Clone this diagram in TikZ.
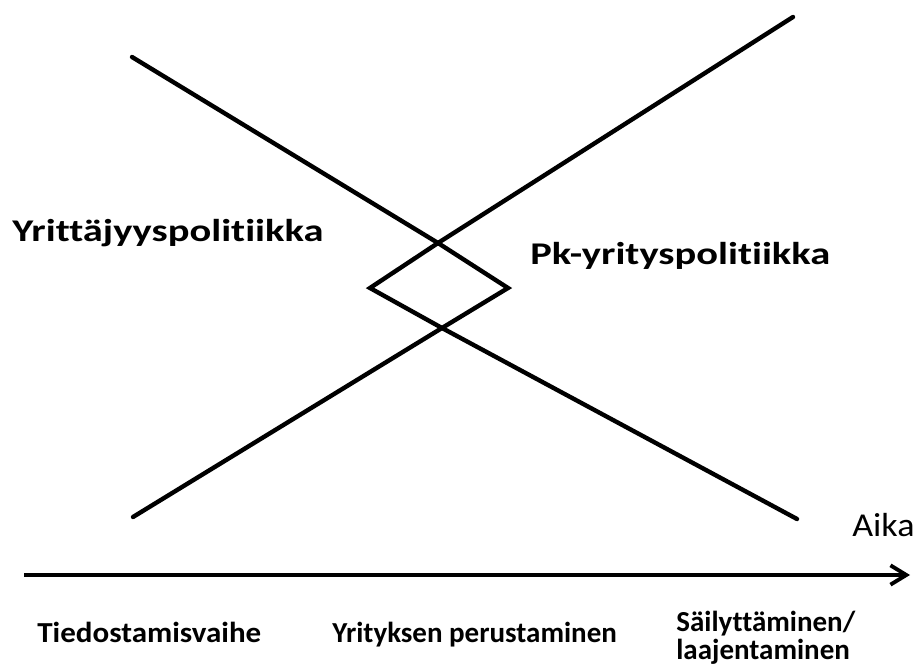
\documentclass[tikz,border=0pt]{standalone}
\usepackage{fontspec}
\setmainfont{Carlito}[Ligatures=NoCommon]
\usetikzlibrary{arrows.meta}

\begin{document}
\begin{tikzpicture}[
    x=0.02cm, y=-0.02cm,
    curve/.style={line width=2.5pt, line join=miter, line cap=round},
    axis/.style={line width=2.6pt, -{Straight Barb[length=9pt, width=11pt, line width=2.2pt]}},
    policy/.style={anchor=base west, inner sep=0pt, font=\fontsize{18}{22}\selectfont\bfseries},
    phase/.style={anchor=base west, inner sep=0pt, font=\fontsize{16.5}{15.5}\selectfont\bfseries, align=left},
    timelabel/.style={anchor=base west, inner sep=0pt, font=\fontsize{19}{22}\selectfont},
]
\useasboundingbox (0,0) rectangle (922,671);

% Crossing points of the two policy lines
\coordinate (ystart) at (132,57);
\coordinate (pstart) at (793,17);
\coordinate (cross1) at (438,243);
\coordinate (cross2) at (442,328);
\coordinate (left)   at (370,288);
\coordinate (right)  at (508,288);
\coordinate (yend)   at (133,517);
\coordinate (pend)   at (797,519);

% Policy lines with the diamond between them
\draw[curve] (ystart) -- (cross1) -- (right) -- (cross2) -- (pend);
\draw[curve] (pstart) -- (cross1) -- (left) -- (cross2) -- (yend);

% Policy labels
\node[policy] (yrit) at (12,242) {\scalebox{1.28}[1]{Yrittäjyyspolitiikka}};
\node[policy] (pk) at (530,265) {\scalebox{1.28}[1]{Pk-yrityspolitiikka}};

% Time axis
\coordinate (t0) at (24,575);
\coordinate (t1) at (910,575);
\draw[axis] (t0) -- (t1);
\node[timelabel] (aika) at (852,536) {\scalebox{1.08}[1]{Aika}};

% Phases
\node[phase] (tied) at (37,642) {\scalebox{1.07}[1]{Tiedostamisvaihe}};
\node[phase] (peru) at (332,642) {Yrityksen perustaminen};
\node[phase] (sail) at (676,659) {Säilyttäminen/\\laajentaminen};

\end{tikzpicture}
\end{document}
